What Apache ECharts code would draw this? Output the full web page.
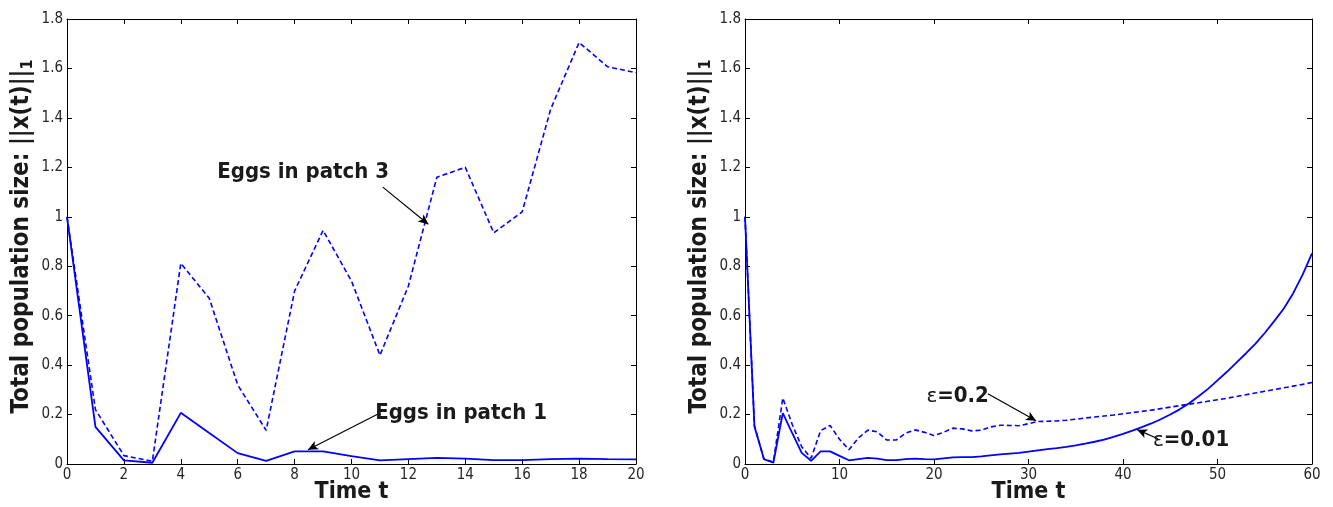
<!DOCTYPE html>
<html>
<head>
<meta charset="utf-8">
<title>Total population size</title>
<script src="https://cdn.jsdelivr.net/npm/echarts@6/dist/echarts.min.js"></script>
<style>
  html, body { margin: 0; padding: 0; background: #fff; }
  #chart { width: 1333px; height: 507px; }
</style>
</head>
<body>
<div id="chart"></div>
<script>
// time steps
const tLeft = [0, 1, 2, 3, 4, 5, 6, 7, 8, 9, 10, 11, 12, 13, 14, 15, 16, 17, 18, 19, 20]
const tRight = [0, 1, 2, 3, 4, 5, 6, 7, 8, 9, 10, 11, 12, 13, 14, 15, 16, 17, 18, 19, 20,
  21, 22, 23, 24, 25, 26, 27, 28, 29, 30, 31, 32, 33, 34, 35, 36, 37, 38, 39, 40,
  41, 42, 43, 44, 45, 46, 47, 48, 49, 50, 51, 52, 53, 54, 55, 56, 57, 58, 59, 60]

// left panel
const eggsPatch1 = [1.0, 0.15, 0.015, 0.005, 0.207, 0.125, 0.044, 0.013, 0.051, 0.051, 0.032,
  0.015, 0.02, 0.025, 0.022, 0.016, 0.016, 0.02, 0.022, 0.02, 0.019]
const eggsPatch3 = [1.0, 0.22, 0.034, 0.011, 0.812, 0.67, 0.32, 0.136, 0.70, 0.945, 0.74,
  0.44, 0.72, 1.16, 1.2, 0.935, 1.02, 1.435, 1.705, 1.607, 1.583]

// right panel
const eps001 = [1.0, 0.152, 0.02, 0.005, 0.206, 0.125, 0.045, 0.013, 0.051, 0.051, 0.033,
  0.015, 0.02, 0.025, 0.022, 0.016, 0.016, 0.02, 0.022, 0.02, 0.019,
  0.023, 0.027, 0.028, 0.028, 0.031, 0.035, 0.039, 0.042, 0.045, 0.05,
  0.055, 0.06, 0.064, 0.069, 0.075, 0.082, 0.09, 0.099, 0.11, 0.122,
  0.135, 0.149, 0.164, 0.181, 0.2, 0.221, 0.246, 0.274, 0.304, 0.338,
  0.373, 0.41, 0.447, 0.486, 0.53, 0.578, 0.628, 0.69, 0.765, 0.852]
const eps02 = [1.0, 0.155, 0.02, 0.008, 0.267, 0.16, 0.07, 0.023, 0.135, 0.156, 0.1,
  0.058, 0.105, 0.137, 0.13, 0.097, 0.097, 0.125, 0.138, 0.128, 0.115,
  0.128, 0.145, 0.142, 0.134, 0.137, 0.15, 0.157, 0.156, 0.155, 0.163,
  0.172, 0.173, 0.174, 0.177, 0.181, 0.186, 0.19, 0.194, 0.198, 0.203,
  0.208, 0.213, 0.218, 0.224, 0.23, 0.236, 0.242, 0.248, 0.254, 0.26,
  0.266, 0.273, 0.28, 0.287, 0.294, 0.301, 0.308, 0.315, 0.322, 0.33]

// axis ticks
const yTicks = [0, 0.2, 0.4, 0.6, 0.8, 1, 1.2, 1.4, 1.6, 1.8]
const xTicksLeft = [0, 2, 4, 6, 8, 10, 12, 14, 16, 18, 20]
const xTicksRight = [0, 10, 20, 30, 40, 50, 60]

// annotations: [text, textAt, arrowFrom, arrowTo] in data units
const notesLeft = [
  ['Eggs in patch 3', [8.3, 1.18], [11.1, 1.12], [12.7, 0.97]],
  ['Eggs in patch 1', [13.85, 0.206], [11.0, 0.206], [8.47, 0.058]]
]
const notesRight = [
  ['{e|ε}=0.2', [22.5, 0.272], [25.7, 0.284], [30.8, 0.175]],
  ['{e|ε}=0.01', [47.2, 0.094], [43.7, 0.102], [41.5, 0.139]]
]

const FONT = "'Liberation Sans Narrow', 'DejaVu Sans Condensed', 'Liberation Sans', sans-serif"
const BLUE = '#0000ff'

const pair = (xs, ys) => xs.map((x, i) => [x, ys[i]])

function xAxisFor(gridIndex, ticks, bottom) {
  return {
    type: 'value',
    gridIndex: gridIndex,
    position: bottom ? 'bottom' : 'top',
    min: ticks[0],
    max: ticks[ticks.length - 1],
    interval: ticks[1] - ticks[0],
    name: bottom ? 'Time t' : '',
    nameLocation: 'middle',
    nameMoveOverlap: false,
    nameGap: 17,
    nameTextStyle: { fontFamily: FONT, fontWeight: 'bold', fontSize: 23, color: '#1a1a1a', verticalAlign: 'top' },
    axisLine: { show: true, onZero: false, lineStyle: { color: '#000', width: 1 } },
    axisTick: { show: true, inside: true, length: 5, lineStyle: { color: '#000' } },
    axisLabel: { show: bottom, margin: 4, fontFamily: FONT, fontSize: 15, color: '#262626' },
    splitLine: { show: false }
  }
}

function yAxisFor(gridIndex, left) {
  return {
    type: 'value',
    gridIndex: gridIndex,
    position: left ? 'left' : 'right',
    min: yTicks[0],
    max: yTicks[yTicks.length - 1],
    interval: yTicks[1] - yTicks[0],
    name: left ? 'Total population size: ||x(t)||{sub|1}' : '',
    nameLocation: 'middle',
    nameRotate: 90,
    nameGap: 31,
    nameTextStyle: {
      fontFamily: FONT, fontWeight: 'bold', fontSize: 24, color: '#1a1a1a',
      padding: [0, 0, 0, 10],
      rich: {
        sub: { fontFamily: FONT, fontWeight: 'bold', fontSize: 16, color: '#1a1a1a', padding: [13, 0, 0, 0] }
      }
    },
    axisLine: { show: true, onZero: false, lineStyle: { color: '#000', width: 1 } },
    axisTick: { show: true, inside: true, length: 5, lineStyle: { color: '#000' } },
    axisLabel: { show: left, margin: 4, fontFamily: FONT, fontSize: 15, color: '#262626' },
    splitLine: { show: false }
  }
}

function noteSeries(notes, xIdx, yIdx) {
  return {
    type: 'line',
    xAxisIndex: xIdx,
    yAxisIndex: yIdx,
    data: [],
    silent: true,
    markLine: {
      silent: true,
      animation: false,
      symbol: ['none', 'arrow'],
      symbolSize: [7, 10],
      lineStyle: { color: '#000', width: 1.2, type: 'solid' },
      label: { show: false },
      data: notes.map(n => [{ coord: n[2] }, { coord: n[3] }])
    },
    markPoint: {
      silent: true,
      animation: false,
      symbol: 'circle',
      symbolSize: 0,
      label: {
        show: true,
        position: 'inside',
        align: 'center',
        verticalAlign: 'middle',
        fontFamily: FONT,
        fontWeight: 'bold',
        fontSize: 22,
        color: '#1a1a1a',
        formatter: p => p.name,
        rich: {
          e: { fontFamily: "'DejaVu Sans', sans-serif", fontWeight: 'normal', fontSize: 20, color: '#1a1a1a' }
        }
      },
      data: notes.map(n => ({ name: n[0], coord: n[1] }))
    }
  }
}

const chart = echarts.init(document.getElementById('chart'))

const option = {
  animation: false,
  backgroundColor: '#fff',
  grid: [
    { left: 67, top: 19, width: 569, height: 445, outerBoundsMode: 'none' },
    { left: 745, top: 19, width: 567, height: 445, outerBoundsMode: 'none' }
  ],
  xAxis: [
    xAxisFor(0, xTicksLeft, true),
    xAxisFor(0, xTicksLeft, false),
    xAxisFor(1, xTicksRight, true),
    xAxisFor(1, xTicksRight, false)
  ],
  yAxis: [
    yAxisFor(0, true),
    yAxisFor(0, false),
    yAxisFor(1, true),
    yAxisFor(1, false)
  ],
  series: [
    {
      name: 'Eggs in patch 1', type: 'line', xAxisIndex: 0, yAxisIndex: 0,
      data: pair(tLeft, eggsPatch1), showSymbol: false,
      lineStyle: { color: BLUE, width: 1.8 }
    },
    {
      name: 'Eggs in patch 3', type: 'line', xAxisIndex: 0, yAxisIndex: 0,
      data: pair(tLeft, eggsPatch3), showSymbol: false,
      lineStyle: { color: BLUE, width: 1.6, type: [5, 3] }
    },
    {
      name: 'eps 0.01', type: 'line', xAxisIndex: 2, yAxisIndex: 2,
      data: pair(tRight, eps001), showSymbol: false,
      lineStyle: { color: BLUE, width: 1.8 }
    },
    {
      name: 'eps 0.2', type: 'line', xAxisIndex: 2, yAxisIndex: 2,
      data: pair(tRight, eps02), showSymbol: false,
      lineStyle: { color: BLUE, width: 1.6, type: [5, 3] }
    },
    noteSeries(notesLeft, 0, 0),
    noteSeries(notesRight, 2, 2)
  ]
}

chart.setOption(option)
window.onresize = function () {
  chart.resize()
}
</script>
</body>
</html>
